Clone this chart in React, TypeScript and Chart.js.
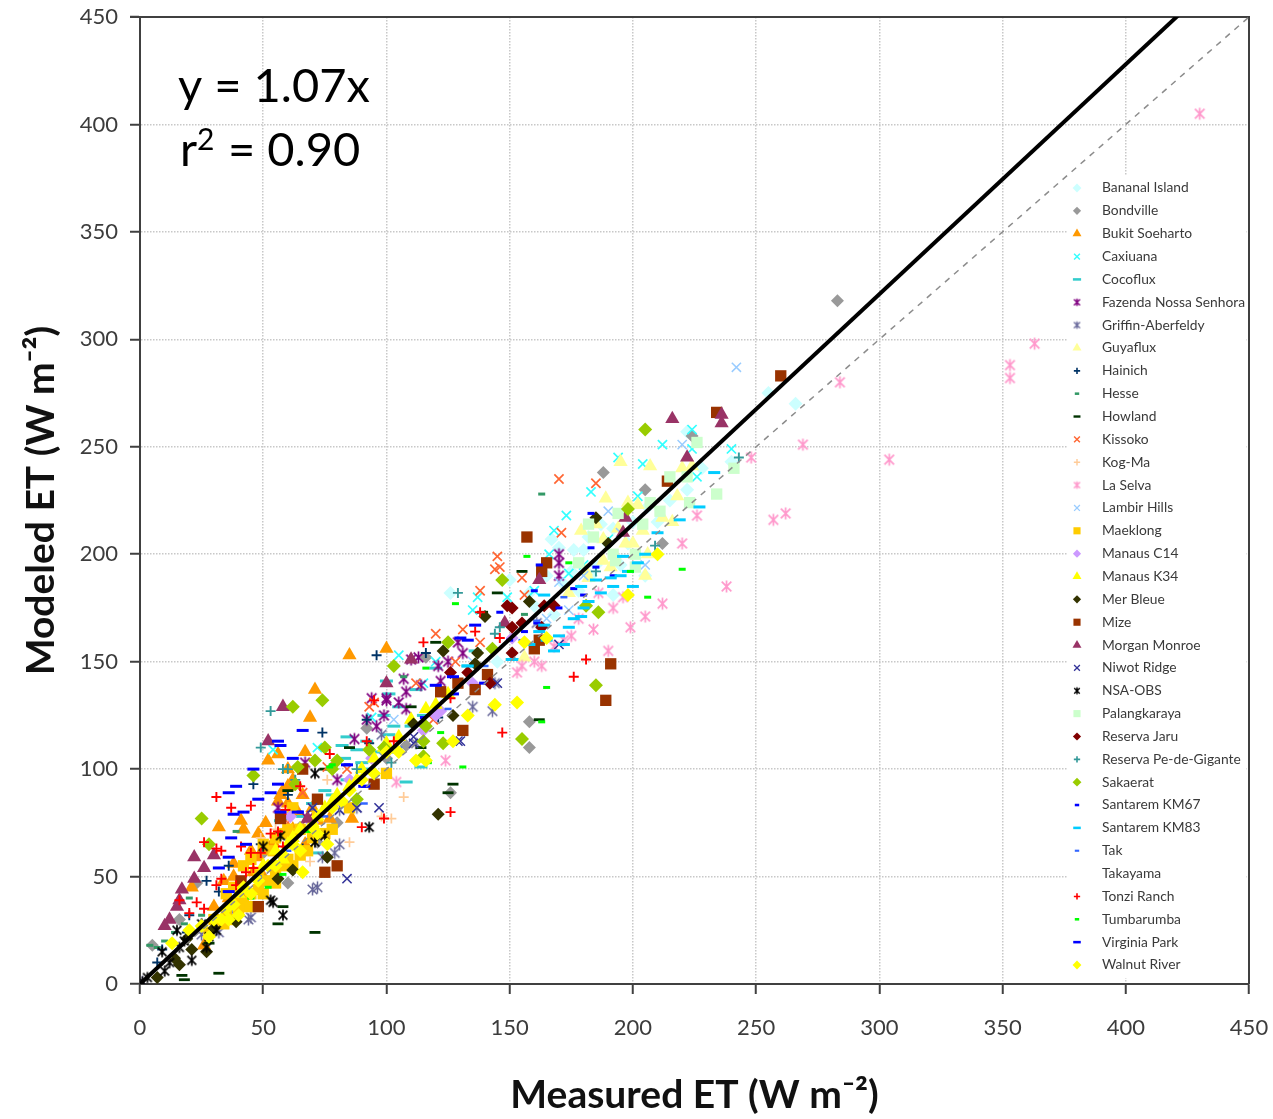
import React, { useEffect, useRef } from "react";
import { Chart, registerables } from "chart.js";
import { drawPoint } from "chart.js/helpers";

Chart.register(...registerables);

type Pair = [number, number];

const xTickStep = 50;
const axisMax = 450;
const xTitle = "Measured ET (W m⁻²)";
const yTitle = "Modeled ET (W m⁻²)";
const fitSlope = 1.07;

const bananalIsland: Pair[] = [[266,270],[255,275],[222,257],[126,182],[167,207],[170,203],[176,202],[180,202],[150,188],[168,172],[145,150],[192,181],[187,214],[195,195],[210,200],[205,190],[200,215],[190,205],[215,225],[222,230],[240,243],[228,240],[206,222],[183,190],[178,183],[172,186],[160,176],[185,195],[175,192],[165,190],[158,182],[192,212],[198,205],[210,215],[182,208]];
const bondville: Pair[] = [[283,318],[224,255],[188,238],[205,230],[212,205],[158,122],[158,110],[126,89],[80,75],[65,73],[60,47],[23,47],[16,30],[50,61],[92,119],[116,152],[108,111],[100,105],[99,108],[58,70],[72,66],[5,18]];
const bukitSoeharto: Pair[] = [[85,153],[100,156],[71,137],[69,124],[67,108],[56,107],[52,104],[58,90],[51,75],[41,76],[32,73],[42,72],[54,66],[48,59],[38,56],[34,48],[67,65],[77,77],[86,77],[21,45],[42,39],[30,36],[36,40],[26,18],[60,84],[64,80],[72,76],[60,100],[62,95],[56,85],[48,70],[45,62],[38,50],[50,50],[58,78],[62,72],[57,88],[60,92],[52,62],[46,52],[40,46],[66,88],[70,82]];
const caxiuana: Pair[] = [[212,251],[224,249],[224,258],[240,249],[226,236],[204,242],[194,245],[202,227],[183,229],[173,218],[168,211],[166,200],[174,191],[137,180],[135,174],[149,180],[105,153],[94,124],[72,110],[54,109],[190,207],[180,195],[160,183],[120,150],[115,140]];
const cocoflux: Pair[] = [[84,115],[88,109],[82,111],[84,95],[108,94],[114,101],[105,129],[72,61],[76,71],[57,76],[100,141],[99,125],[103,120],[101,116],[83,105],[101,135],[112,137],[120,147],[133,148],[136,155],[151,151],[96,108],[90,103],[70,84],[75,90],[93,100],[110,120],[115,125],[125,135],[92,113],[66,78],[78,88]];
const fazendaNossaSenhora: Pair[] = [[170,196],[170,190],[170,200],[110,151],[113,152],[121,148],[131,154],[129,159],[107,142],[108,136],[100,132],[122,141],[94,133],[87,114],[96,120],[114,139],[100,133],[92,123],[99,125],[56,82],[67,103],[108,128],[80,95],[68,77],[105,131],[125,150]];
const griffinAberfeldy: Pair[] = [[70,82],[81,81],[88,82],[81,65],[79,61],[74,59],[72,45],[70,44],[45,31],[37,34],[57,58],[51,48],[32,24],[25,23],[1,1],[98,116],[143,127],[135,129],[144,140],[161,168],[112,112],[44,30]];
const guyaflux: Pair[] = [[195,243],[207,241],[189,226],[198,224],[202,223],[218,227],[212,217],[216,215],[204,211],[179,211],[188,207],[200,205],[205,190],[191,194],[181,192],[174,182],[206,200],[188,197],[197,205],[182,189],[156,152],[224,241],[220,240],[185,214],[194,212]];
const hainich: Pair[] = [[46,93],[74,117],[36,55],[27,48],[32,43],[20,32],[19,24],[9,16],[7,10],[66,63],[92,123],[93,112],[121,124],[96,153],[116,154],[60,88],[49,65]];
const hesse: Pair[] = [[163,228],[4,18],[7,17],[10,20],[20,40],[39,71],[103,108],[156,172],[107,143],[18,28],[25,32],[14,24]];
const howland: Pair[] = [[17,4],[18,2],[32,5],[71,24],[56,28],[58,36],[127,93],[125,89],[114,110],[110,129],[28,19],[162,123],[155,192],[145,182],[139,173],[120,159],[60,90],[75,100],[85,110]];
const kissoko: Pair[] = [[170,235],[185,233],[171,210],[155,189],[145,199],[146,194],[144,193],[138,183],[156,181],[131,165],[120,163],[138,159],[112,140],[95,131],[93,129],[84,100],[76,101],[119,123],[66,89],[128,150],[60,75]];
const kogMa: Pair[] = [[107,87],[102,77],[98,78],[85,66],[69,57],[76,95],[49,68],[55,72]];
const laSelva: Pair[] = [[430,405],[353,288],[353,282],[363,298],[284,280],[269,251],[304,244],[248,245],[262,219],[257,216],[238,185],[226,218],[220,205],[212,177],[205,171],[199,166],[190,155],[184,165],[178,170],[175,162],[153,145],[160,150],[163,148],[155,148],[124,104],[104,94],[168,157],[172,160],[186,182],[192,175],[196,180]];
const lambirHills: Pair[] = [[242,287],[220,251],[190,220],[170,187],[174,174],[103,123],[205,195],[180,190],[165,170],[135,150],[195,210]];
const maeklong: Pair[] = [[30,30],[35,33],[38,38],[42,38],[45,42],[48,44],[52,48],[55,52],[58,55],[60,58],[62,55],[65,60],[70,68],[75,70],[68,62],[50,42],[44,36],[40,35],[34,28],[28,24],[36,30],[55,47],[85,82],[100,98],[78,72],[54,62],[58,70],[62,82],[60,72],[45,58],[50,65],[42,55],[55,68],[62,70],[65,72],[48,52],[38,45],[35,42],[72,78]];
const manausC14: Pair[] = [[94,105],[115,118],[122,127],[61,78],[151,161],[80,85],[100,108],[135,140],[120,125],[70,75],[85,95]];
const manausK34: Pair[] = [[40,42],[50,55],[55,62],[60,65],[65,72],[70,75],[75,82],[80,88],[85,92],[90,100],[95,105],[100,112],[105,115],[110,123],[116,128],[120,130],[72,78],[62,68],[78,85],[88,95],[58,58],[99,110],[125,135]];
const merBleue: Pair[] = [[121,79],[127,125],[111,121],[76,59],[62,53],[56,49],[39,29],[30,26],[27,15],[21,16],[16,9],[14,12],[7,3],[19,21],[185,217],[190,205],[158,178],[140,171],[137,154],[136,149],[123,155]];
const mize: Pair[] = [[260,283],[234,266],[214,234],[157,208],[165,196],[163,192],[189,132],[191,149],[160,156],[162,160],[141,144],[129,140],[122,136],[136,137],[131,118],[95,93],[66,100],[72,86],[57,77],[41,48],[48,36],[80,55],[75,52]];
const morganMonroe: Pair[] = [[236,261],[236,265],[216,263],[222,245],[197,217],[196,210],[162,188],[148,168],[110,151],[100,140],[58,129],[52,113],[22,59],[30,60],[26,54],[22,49],[17,44],[16,39],[15,36],[12,30],[10,27],[68,77]];
const niwotRidge: Pair[] = [[84,49],[97,82],[88,82],[81,81],[130,113],[111,112],[170,158],[145,140],[129,113],[70,82],[111,115]];
const nsaObs: Pair[] = [[93,73],[71,66],[75,69],[57,69],[50,64],[71,98],[53,39],[54,38],[58,32],[31,25],[28,22],[27,17],[15,25],[9,15],[21,11],[10,6],[3,3],[1,1],[16,17],[12,10],[18,20],[25,28]];
const palangkaraya: Pair[] = [[241,240],[234,228],[223,224],[226,252],[211,220],[207,224],[215,236],[222,236],[194,219],[182,214],[204,214],[184,208],[201,200],[178,196],[193,197],[201,194],[192,200]];
const reservaJaru: Pair[] = [[149,176],[151,175],[151,154],[151,166],[155,168],[163,166],[168,176],[164,176],[133,145],[142,140],[126,145]];
const reservaPeDeGigante: Pair[] = [[53,127],[49,110],[58,100],[60,100],[63,95],[102,103],[88,100],[129,182],[144,163],[146,166],[185,192],[243,245],[209,204]];
const sakaerat: Pair[] = [[205,258],[198,221],[147,188],[181,176],[186,173],[185,139],[155,114],[123,112],[103,148],[125,159],[116,120],[143,156],[115,106],[74,132],[62,129],[46,97],[25,77],[75,110],[71,104],[64,101],[63,93],[88,86],[80,104],[78,100],[99,110],[93,109],[28,65],[115,113]];
const santaremKm67: Pair[] = [[183,219],[162,195],[160,183],[146,173],[180,181],[183,203],[161,168],[139,140],[156,164],[185,194],[91,92],[84,102],[115,124],[65,80],[150,160],[128,135],[170,175],[176,184],[192,190]];
const santaremKm83: Pair[] = [[233,238],[227,222],[219,216],[202,196],[195,190],[187,182],[191,189],[179,185],[196,199],[192,185],[164,181],[164,167],[170,162],[174,166],[179,171],[162,164],[151,151],[133,148],[172,158],[176,170],[182,178],[185,188],[198,192],[205,200],[210,210],[200,185],[180,175],[168,155],[165,160],[158,158]];
const tak: Pair[] = [[91,84],[161,169],[155,160],[125,128],[105,110],[75,78],[140,148],[172,180],[60,62],[48,50]];
const takayama: Pair[] = [];
const tonziRanch: Pair[] = [[126,80],[99,77],[90,73],[31,87],[37,82],[45,83],[26,66],[31,63],[33,62],[41,64],[45,61],[49,61],[53,70],[56,71],[46,54],[43,52],[33,49],[31,46],[39,46],[16,39],[23,38],[26,35],[20,33],[58,64],[65,92],[59,81],[77,107],[92,113],[95,132],[103,113],[181,151],[176,143],[147,117],[146,161],[136,164],[138,173],[115,159],[126,133]];
const tumbarumba: Pair[] = [[220,193],[206,180],[157,199],[174,196],[199,192],[128,177],[116,147],[165,138],[163,122],[122,117],[117,103],[131,101],[68,71],[58,51],[45,40],[52,45],[78,102],[44,44],[77,101]];
const virginiaPark: Pair[] = [[66,118],[57,111],[56,113],[62,105],[46,100],[39,92],[36,89],[53,89],[56,93],[48,86],[42,80],[38,79],[57,80],[64,80],[84,102],[91,92],[43,65],[37,68],[36,59],[32,54],[36,43],[136,167],[130,161],[133,160],[120,139],[127,143]];
const walnutRiver: Pair[] = [[153,131],[144,130],[133,125],[127,113],[156,159],[165,161],[198,181],[210,200],[76,65],[66,52],[116,104],[112,104],[95,98],[36,30],[13,19],[20,25],[25,27],[30,30],[35,35],[38,37],[42,45],[45,42],[48,48],[52,55],[55,55],[58,60],[62,65],[65,62],[70,73],[72,70],[78,82],[82,85],[85,90],[90,95],[100,108],[105,108],[40,32],[33,30],[28,22]];

const sites = [
  { name: "Bananal Island", data: bananalIsland, shape: "rectRot", color: "#ccffff", r: 7, w: 0 },
  { name: "Bondville", data: bondville, shape: "rectRot", color: "#999999", r: 6.5, w: 0 },
  { name: "Bukit Soeharto", data: bukitSoeharto, shape: "triangle", color: "#ff9900", r: 8.2, w: 0 },
  { name: "Caxiuana", data: caxiuana, shape: "crossRot", color: "#33ffff", r: 6.5, w: 1.7 },
  { name: "Cocoflux", data: cocoflux, shape: "line", color: "#33cccc", r: 6.5, w: 3 },
  { name: "Fazenda Nossa Senhora", data: fazendaNossaSenhora, shape: "star", color: "#800080", r: 6, w: 1.7 },
  { name: "Griffin-Aberfeldy", data: griffinAberfeldy, shape: "star", color: "#666699", r: 6, w: 1.5 },
  { name: "Guyaflux", data: guyaflux, shape: "triangle", color: "#ffff99", r: 8.2, w: 0 },
  { name: "Hainich", data: hainich, shape: "cross", color: "#003366", r: 5, w: 1.9 },
  { name: "Hesse", data: hesse, shape: "line", color: "#339966", r: 3.5, w: 3 },
  { name: "Howland", data: howland, shape: "line", color: "#003300", r: 5.5, w: 2.8 },
  { name: "Kissoko", data: kissoko, shape: "crossRot", color: "#ff6633", r: 6.5, w: 1.7 },
  { name: "Kog-Ma", data: kogMa, shape: "cross", color: "#ffcc99", r: 5, w: 1.7 },
  { name: "La Selva", data: laSelva, shape: "star", color: "#ff99cc", r: 6, w: 1.7 },
  { name: "Lambir Hills", data: lambirHills, shape: "crossRot", color: "#99ccff", r: 6.5, w: 1.5 },
  { name: "Maeklong", data: maeklong, shape: "rect", color: "#ffcc00", r: 8, w: 0 },
  { name: "Manaus C14", data: manausC14, shape: "rectRot", color: "#cc99ff", r: 6.5, w: 0 },
  { name: "Manaus K34", data: manausK34, shape: "triangle", color: "#ffff00", r: 8.2, w: 0 },
  { name: "Mer Bleue", data: merBleue, shape: "rectRot", color: "#333300", r: 6.5, w: 0 },
  { name: "Mize", data: mize, shape: "rect", color: "#993300", r: 8, w: 0 },
  { name: "Morgan Monroe", data: morganMonroe, shape: "triangle", color: "#993366", r: 8.2, w: 0 },
  { name: "Niwot Ridge", data: niwotRidge, shape: "crossRot", color: "#333399", r: 6.5, w: 1.5 },
  { name: "NSA-OBS", data: nsaObs, shape: "star", color: "#000000", r: 5.5, w: 1.7 },
  { name: "Palangkaraya", data: palangkaraya, shape: "rect", color: "#ccffcc", r: 8, w: 0 },
  { name: "Reserva Jaru", data: reservaJaru, shape: "rectRot", color: "#800000", r: 6.5, w: 0 },
  { name: "Reserva Pe-de-Gigante", data: reservaPeDeGigante, shape: "cross", color: "#339999", r: 5, w: 1.9 },
  { name: "Sakaerat", data: sakaerat, shape: "rectRot", color: "#99cc00", r: 7, w: 0 },
  { name: "Santarem KM67", data: santaremKm67, shape: "line", color: "#0000ff", r: 3.5, w: 3 },
  { name: "Santarem KM83", data: santaremKm83, shape: "line", color: "#00ccff", r: 6, w: 3 },
  { name: "Tak", data: tak, shape: "line", color: "#3366ff", r: 3.5, w: 2.5 },
  { name: "Takayama", data: takayama, shape: "circle", color: "#ffffff", r: 4, w: 0 },
  { name: "Tonzi Ranch", data: tonziRanch, shape: "cross", color: "#ff0000", r: 5, w: 1.9 },
  { name: "Tumbarumba", data: tumbarumba, shape: "line", color: "#00ff00", r: 3.5, w: 3 },
  { name: "Virginia Park", data: virginiaPark, shape: "line", color: "#0000ff", r: 6, w: 3 },
  { name: "Walnut River", data: walnutRiver, shape: "rectRot", color: "#ffff00", r: 7, w: 0 },
];

const oneToOne: Pair[] = [[0, 0], [axisMax, axisMax]];
const fitLine: Pair[] = [[0, 0], [axisMax, axisMax * fitSlope]];
const toPoints = (pairs: Pair[]) => pairs.map(([x, y]) => ({ x, y }));

const FONT = "Lato, Carlito, 'Open Sans', sans-serif";

// six-armed asterisk: an X with a vertical bar, as the spreadsheet's star marker
function starCanvas(color: string, r: number, w: number) {
  const size = Math.ceil(r * 2 + 3);
  const c = document.createElement("canvas");
  c.width = size;
  c.height = size;
  const g = c.getContext("2d") as CanvasRenderingContext2D;
  const m = size / 2;
  const d = r * 0.8;
  g.strokeStyle = color;
  g.lineWidth = w;
  g.beginPath();
  g.moveTo(m - d, m - d);
  g.lineTo(m + d, m + d);
  g.moveTo(m + d, m - d);
  g.lineTo(m - d, m + d);
  g.moveTo(m, m - r);
  g.lineTo(m, m + r);
  g.stroke();
  return c;
}

const overlay = {
  id: "overlay",
  beforeDatasetsDraw(chart: any) {
    const { ctx, chartArea: a } = chart;
    ctx.save();
    // white box behind legend
    ctx.fillStyle = "#ffffff";
    ctx.fillRect(1068, 176, 178, 802);
    // top and right frame lines
    ctx.strokeStyle = "#404040";
    ctx.lineWidth = 2;
    ctx.beginPath();
    ctx.moveTo(a.left - 10, a.top);
    ctx.lineTo(a.right, a.top);
    ctx.lineTo(a.right, a.bottom);
    ctx.stroke();
    ctx.restore();
  },
  afterDraw(chart: any) {
    const { ctx } = chart;
    ctx.save();
    // legend
    ctx.textBaseline = "middle";
    ctx.textAlign = "left";
    sites.forEach((s, i) => {
      const y = 188 + i * 22.853;
      if (s.name !== "Takayama") {
        ctx.save();
        ctx.fillStyle = s.color;
        ctx.strokeStyle = s.color;
        ctx.lineWidth = s.w * 0.85;
        const legendR = s.r * 0.63;
        const shape = s.shape === "star" ? starCanvas(s.color, legendR, s.w * 0.85) : s.shape;
        drawPoint(ctx, { pointStyle: shape, radius: legendR, borderWidth: s.w * 0.85, rotation: 0 } as any, 1077, y);
        ctx.restore();
      }
      ctx.fillStyle = "#3a3a3a";
      ctx.font = `13.8px ${FONT}`;
      ctx.fillText(s.name, 1102, y);
    });
    // equation
    ctx.textBaseline = "alphabetic";
    ctx.fillStyle = "#000000";
    ctx.font = `47px ${FONT}`;
    ctx.fillText("y = 1.07x", 178, 102);
    ctx.fillText("r", 180, 166);
    ctx.fillText("= 0.90", 228, 166);
    ctx.font = `30px ${FONT}`;
    ctx.fillText("2", 197, 150);
    ctx.restore();
  },
};

export default function App() {
  const ref = useRef<HTMLCanvasElement>(null);
  useEffect(() => {
    const axis = (title: string, isX: boolean) => ({
      type: "linear",
      min: 0,
      max: axisMax,
      afterFit(scale: any) {
        if (isX) scale.height = 135;
        else scale.width = 140;
        scale.paddingLeft = 0;
        scale.paddingRight = 0;
        scale.paddingTop = 0;
        scale.paddingBottom = 0;
      },
      title: {
        display: true,
        text: title,
        color: "#111111",
        font: { family: FONT, size: 39, weight: "bold" },
        padding: isX ? { top: -6, bottom: 0 } : { top: 18, bottom: 0 },
      },
      ticks: {
        stepSize: xTickStep,
        autoSkip: false,
        maxRotation: 0,
        color: "#3c3c3c",
        padding: isX ? 21 : 12,
        font: { family: FONT, size: 22 },
      },
      grid: {
        color: "#c8c8c8",
        lineWidth: 1.5,
        tickColor: "#404040",
        tickLength: 10,
        tickWidth: 2,
        tickBorderDash: [],
      },
      border: { display: true, color: "#404040", width: 2, dash: [1.5, 1.5] },
    });
    const chart = new Chart(ref.current as HTMLCanvasElement, {
      type: "scatter",
      data: {
        datasets: [
          {
            label: "Fit",
            data: toPoints(fitLine),
            showLine: true,
            borderColor: "#000000",
            borderWidth: 4,
            pointRadius: 0,
            order: 0,
          },
          {
            label: "1:1",
            data: toPoints(oneToOne),
            showLine: true,
            borderColor: "#8c8c8c",
            borderWidth: 1.5,
            borderDash: [6, 6],
            pointRadius: 0,
            order: 1,
          },
          ...sites.map((s, i) => ({
            label: s.name,
            data: toPoints(s.data),
            pointStyle: s.shape === "star" ? starCanvas(s.color, s.r, s.w) : s.shape,
            pointRadius: s.r,
            pointBorderWidth: s.w,
            pointBackgroundColor: s.color,
            pointBorderColor: s.color,
            order: 100 - i,
          })),
        ],
      } as any,
      options: {
        responsive: false,
        animation: false,
        layout: { padding: { left: 0, top: 17, right: 24, bottom: 0 } },
        plugins: { legend: { display: false }, tooltip: { enabled: false } },
        scales: { x: axis(xTitle, true), y: axis(yTitle, false) } as any,
      },
      plugins: [overlay],
    } as any);
    return () => chart.destroy();
  }, []);
  return (
    <canvas
      ref={ref}
      width={1273}
      height={1119}
      style={{ position: "absolute", left: 0, top: 0, width: 1273, height: 1119, display: "block" }}
    />
  );
}
